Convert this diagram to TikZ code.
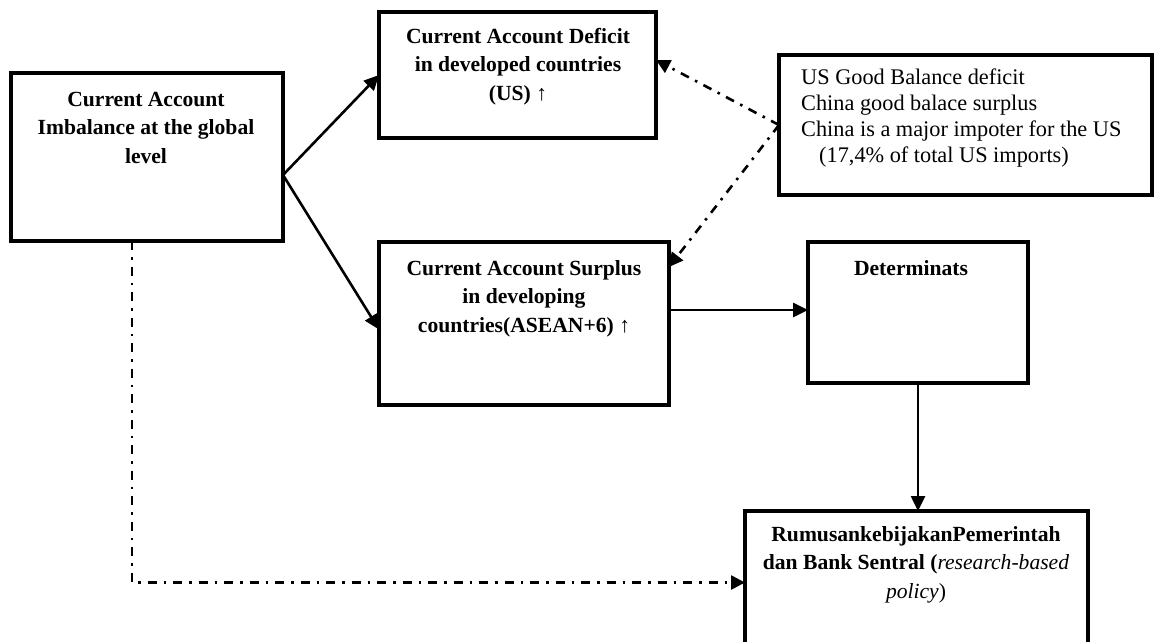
\documentclass[tikz,border=0pt]{standalone}
\usepackage{fontspec}
\setmainfont{Liberation Serif}
\usetikzlibrary{arrows.meta}
\begin{document}
\begin{tikzpicture}[x=1pt,y=-1pt,
  box/.style={draw=black, line width=3.2pt, rectangle, inner sep=0pt, outer sep=0pt, anchor=north west},
  btext/.style={inner sep=0pt, anchor=base, align=center, font=\fontsize{21.6}{28.5}\selectfont\bfseries},
  rtext/.style={inner sep=0pt, anchor=base west, align=left, font=\fontsize{22.3}{25.7}\selectfont},
  arr/.style={line width=2.6pt, -{Triangle[length=15pt,width=14pt]}},
  dd/.style={line width=2.6pt, dash pattern=on 9pt off 7pt on 2.5pt off 7pt, -{Triangle[length=14pt,width=14pt]}}
]
\useasboundingbox (0,0) rectangle (1155,641);
\fill[white] (0,0) rectangle (1155,641);

% boxes
\node[box, minimum width=272pt, minimum height=168pt] (A) at (11,73) {};
\node[box, minimum width=277pt, minimum height=126pt] (B) at (379,12) {};
\node[box, minimum width=290pt, minimum height=163pt] (C) at (379,242) {};
\node[box, minimum width=373pt, minimum height=140pt] (D) at (779,55) {};
\node[box, minimum width=220pt, minimum height=141pt] (E) at (808,242) {};
\node[box, minimum width=343pt, minimum height=149pt] (F) at (745,511) {};

% texts (anchor = baseline of last line)
\node[btext] (tA) at (146,163) {Current Account\\Imbalance at the global\\level};
\node[btext] (tB) at (518,100) {Current Account Deficit\\in developed countries\\(US) \textmd{↑}};
\node[btext] (tC) at (524,332) {Current Account Surplus\\in developing\\countries(ASEAN+6) \textmd{↑}};
\node[rtext] (tD) at (801,162) {US Good Balance deficit\\China good balace surplus\\China is a major impoter for the US\\\hspace*{18pt}(17,4\% of total US imports)};
\node[btext] (tE) at (911,275) {Determinats};
\node[btext] (tF) at (916,598) {RumusankebijakanPemerintah\\dan Bank Sentral (\textit{\mdseries research-based}\\\textit{\mdseries policy}\textmd{)}};

% solid connectors
\coordinate (a1) at ([yshift=-18pt]A.east);
\draw[arr] (a1) -- (B.west);
\draw[arr] (a1) -- ([yshift=-6pt]C.west);
\coordinate (c1) at ([yshift=13.5pt]C.east);
\draw[arr] (c1) -- (c1 -| E.west);
\draw[arr] (E.south) -- (E.south |- F.north);

% dash-dot connectors
\draw[dd] (D.west) -- ([yshift=15pt]B.east);
\draw[dd] (D.west) -- ([yshift=-25pt]C.north east);
\coordinate (a2) at ([xshift=-15pt]A.south);
\draw[dd] (a2) |- ([yshift=3pt]F.west);
\end{tikzpicture}
\end{document}
